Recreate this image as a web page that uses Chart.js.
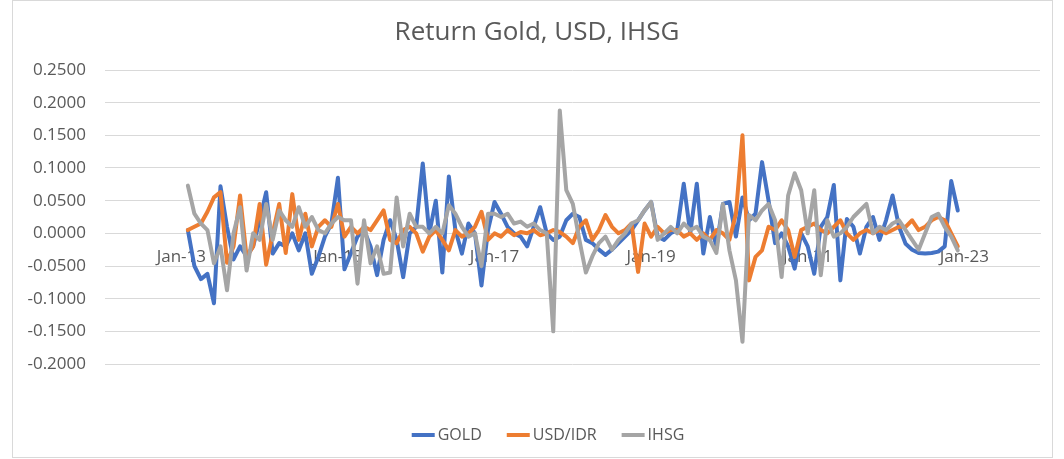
<!DOCTYPE html>
<html><head><meta charset="utf-8">
<script src="https://cdn.jsdelivr.net/npm/chart.js@4.4.1/dist/chart.umd.min.js"></script>
<style>
html,body{margin:0;padding:0;background:#fff;}
#wrap{position:relative;width:1064px;height:459px;}
#frame{position:absolute;left:12px;top:0;width:1041px;height:458px;border:1px solid #d9d9d9;box-sizing:border-box;pointer-events:none}
canvas{display:block}
</style></head><body>
<div id="wrap"><canvas id="c" width="1064" height="459"></canvas><div id="frame"></div></div>
<script>
// x-axis tick labels (every 24 months starting Jan-13)
const tickLabels = ['Jan-13','Jan-15','Jan-17','Jan-19','Jan-21','Jan-23'];
// first observation is Feb-13 (1 month after Jan-13), monthly afterwards
const firstMonth = 1;
const seriesNames = ['GOLD','USD/IDR','IHSG'];

const gold = [
 0.005,-0.05,-0.07,-0.062,-0.107,0.072,0.01,-0.04,-0.02,-0.035,
 -0.02,0.02,0.063,-0.031,-0.015,-0.02,0.0,-0.026,0.0,-0.062,
 -0.036,-0.005,0.015,0.085,-0.055,-0.03,-0.005,0.005,-0.02,-0.064,
 -0.01,0.02,-0.01,-0.067,0.0,0.01,0.107,0.0,0.05,-0.06,
 0.087,0.005,-0.031,0.015,0.0,-0.08,0.005,0.048,0.03,0.01,
 0.0,-0.005,-0.02,0.01,0.04,0.0,-0.01,-0.005,0.02,0.03,
 0.025,-0.01,-0.015,-0.025,-0.033,-0.025,-0.015,-0.005,0.005,0.02,
 0.035,0.048,-0.005,-0.01,0.0,0.005,0.076,0.0,0.076,-0.031,
 0.025,-0.021,0.045,0.048,-0.005,0.055,0.02,0.03,0.109,0.05,
 -0.015,0.0,-0.02,-0.054,0.0,-0.02,-0.062,0.01,0.025,0.074,
 -0.072,0.022,0.01,-0.031,0.01,0.025,-0.01,0.02,0.058,0.01,
 -0.016,-0.025,-0.03,-0.031,-0.03,-0.028,-0.02,0.08,0.035
];
const usdIdr = [
 0.005,0.01,0.015,0.033,0.055,0.063,-0.045,-0.02,0.058,-0.036,
 -0.02,0.045,-0.048,0.0,0.045,-0.03,0.06,-0.01,0.03,-0.02,
 0.01,0.02,0.01,0.045,-0.005,0.01,0.0,0.01,0.005,0.02,
 0.035,-0.01,-0.015,0.005,0.01,0.0,-0.028,-0.005,0.005,-0.01,
 -0.026,0.005,-0.005,0.0,0.01,0.033,-0.01,0.0,-0.005,0.005,
 -0.003,0.002,0.0,0.005,-0.003,0.0,0.005,0.002,-0.005,-0.015,
 0.01,0.02,-0.01,0.005,0.028,0.01,0.0,0.005,0.015,-0.059,
 0.015,-0.005,0.01,0.0,0.005,0.005,-0.005,0.0,-0.01,0.0,
 -0.01,0.005,0.0,-0.01,0.03,0.15,-0.072,-0.036,-0.026,0.01,
 0.005,0.02,0.005,-0.036,0.005,0.01,0.015,0.005,0.0,0.01,
 0.02,0.0,-0.01,0.0,0.005,0.0,0.005,0.0,0.005,0.01,
 0.01,0.02,0.005,0.01,0.02,0.025,0.02,0.0,-0.02
];
const ihsg = [
 0.073,0.03,0.015,0.005,-0.046,-0.02,-0.087,0.0,0.04,-0.057,
 0.0,-0.01,0.045,-0.01,0.035,0.02,0.01,0.04,0.01,0.025,
 0.005,0.0,0.015,0.025,0.02,0.02,-0.077,0.02,-0.046,-0.02,
 -0.062,-0.06,0.055,-0.02,0.03,0.01,0.01,0.0,0.01,0.0,
 0.043,0.03,0.01,-0.005,0.0,-0.05,0.03,0.03,0.025,0.03,
 0.015,0.018,0.01,0.015,0.005,0.0,-0.15,0.188,0.066,0.045,
 -0.01,-0.06,-0.035,-0.015,-0.005,-0.025,-0.01,0.0,0.015,0.02,
 0.035,0.048,-0.01,0.0,0.01,0.0,0.015,0.005,0.01,-0.005,
 -0.01,-0.03,0.045,-0.026,-0.072,-0.166,0.028,0.02,0.035,0.045,
 0.02,-0.067,0.058,0.092,0.066,0.0,0.066,-0.064,0.02,-0.005,
 0.0,0.01,0.025,0.035,0.045,0.0,0.01,0.005,0.015,0.02,
 0.005,-0.01,-0.025,0.0,0.025,0.03,0.01,-0.005,-0.026
];

const tickValues = tickLabels.map(l => (parseInt(l.slice(4), 10) - 13) * 12);
const toPoints = arr => arr.map((v, i) => ({x: firstMonth + i, y: v}));

const FONT = "'Open Sans', 'Liberation Sans', sans-serif";
Chart.defaults.font.family = FONT;
Chart.defaults.color = '#595959';

const excelLegend = {
  id: 'excelLegend',
  afterLayout(chart) {
    // let the y tick labels use the space left of the axis box (avoid clipping of the minus sign)
    chart.scales.y.left = 0;
  },
  afterDraw(chart) {
    const ctx = chart.ctx;
    ctx.save();
    ctx.font = '16px ' + FONT;
    const lineLen = 23, gap = 3, spacing = 25;
    const items = chart.data.datasets.map(ds => ({label: ds.label, color: ds.borderColor, w: ctx.measureText(ds.label).width}));
    const total = items.reduce((s, it) => s + lineLen + gap + it.w, 0) + spacing * (items.length - 1);
    let x = 548 - total / 2;
    const y = 435;
    ctx.textBaseline = 'middle';
    ctx.textAlign = 'left';
    items.forEach(it => {
      ctx.strokeStyle = it.color;
      ctx.lineWidth = 4;
      ctx.beginPath(); ctx.moveTo(x, y); ctx.lineTo(x + lineLen, y); ctx.stroke();
      x += lineLen + gap;
      ctx.fillStyle = '#595959';
      ctx.fillText(it.label, x, y);
      x += it.w + spacing;
    });
    ctx.restore();
  }
};

new Chart(document.getElementById('c'), {
  type: 'line',
  data: {
    datasets: [
      {label: seriesNames[0], data: toPoints(gold), borderColor: '#4472C4', backgroundColor: '#4472C4', order: 3},
      {label: seriesNames[1], data: toPoints(usdIdr), borderColor: '#ED7D31', backgroundColor: '#ED7D31', order: 2},
      {label: seriesNames[2], data: toPoints(ihsg), borderColor: '#A5A5A5', backgroundColor: '#A5A5A5', order: 1}
    ]
  },
  options: {
    responsive: false,
    animation: false,
    elements: {point: {radius: 0}, line: {borderWidth: 4, tension: 0, borderJoinStyle: 'round', borderCapStyle: 'round'}},
    layout: {padding: {left: 34, right: 24, top: 0, bottom: 95}},
    plugins: {
      legend: {display: false},
      tooltip: {enabled: false},
      title: {display: true, text: 'Return Gold, USD, IHSG', color: '#595959',
        font: {size: 26, weight: 'normal', family: FONT, lineHeight: 1.2}, padding: {top: 17.4, bottom: 21.4}}
    },
    scales: {
      x: {
        type: 'linear', position: {y: 0}, min: -11.7, max: 131.6,
        grid: {display: false, drawTicks: false},
        border: {display: true, color: '#d9d9d9'},
        afterBuildTicks: s => { s.ticks = tickValues.map(v => ({value: v})); },
        ticks: {autoSkip: false, maxRotation: 0, padding: 14, font: {size: 17}, color: '#595959',
          callback: v => { const i = tickValues.indexOf(v); return i >= 0 ? tickLabels[i] : ''; }}
      },
      y: {
        min: -0.2, max: 0.25,
        afterFit: s => { s.width = 71; },
        grid: {color: '#d9d9d9', drawTicks: false},
        border: {display: false},
        ticks: {stepSize: 0.05, padding: 19, font: {size: 17}, color: '#595959',
          callback: v => (Math.abs(v) < 1e-9 ? 0 : v).toFixed(4)}
      }
    }
  },
  plugins: [excelLegend]
});
</script></body></html>
